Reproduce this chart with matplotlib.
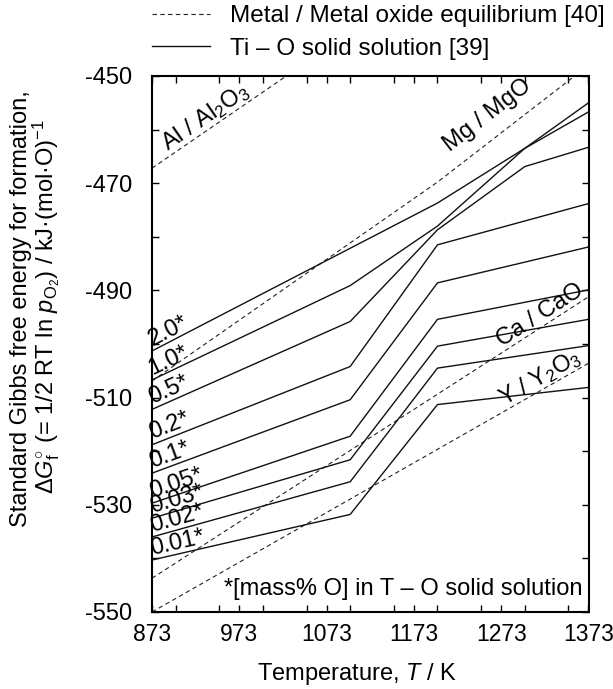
import numpy as np
import matplotlib
matplotlib.use("Agg")
import matplotlib.pyplot as plt
from matplotlib.ticker import MultipleLocator

plt.rcParams['font.family'] = ['Liberation Sans', 'DejaVu Sans']
plt.rcParams['mathtext.fontset'] = 'custom'
plt.rcParams['mathtext.rm'] = 'Liberation Sans'
plt.rcParams['mathtext.it'] = 'Liberation Sans:italic'
plt.rcParams['axes.unicode_minus'] = False

# Ti-O solid solution lines (oxygen content in mass%)
conc_labels = ["2.0*", "1.0*", "0.5*", "0.2*", "0.1*", "0.05*", "0.03*", "0.02*", "0.01*"]
T_ti = [
    [873, 1200, 1300, 1373],
    [873, 1100, 1200, 1300, 1373],
    [873, 1100, 1200, 1300, 1373],
    [873, 1100, 1200, 1373],
    [873, 1100, 1200, 1373],
    [873, 1100, 1200, 1373],
    [873, 1100, 1200, 1373],
    [873, 1100, 1200, 1373],
    [873, 1100, 1200, 1373],
]
G_ti = [
    [-501.3, -473.7, -463.5, -455.0],
    [-506.7, -489.1, -478.0, -463.5, -456.7],
    [-512.2, -495.8, -478.7, -466.9, -463.3],
    [-518.8, -504.2, -481.5, -473.8],
    [-524.1, -510.4, -488.6, -481.9],
    [-529.7, -517.2, -495.4, -489.9],
    [-532.5, -521.6, -500.4, -495.4],
    [-536.0, -525.7, -504.5, -500.3],
    [-540.3, -531.8, -511.3, -508.1],
]

# metal / metal oxide equilibrium lines
oxide_labels = [r"Al / Al$_2$O$_3$", "Mg / MgO", "Ca / CaO", r"Y / Y$_2$O$_3$"]
T_ox = [[873, 1373], [873, 1200, 1373], [873, 1373], [873, 1373]]
G_ox = [[-467.2, -411.3], [-506.9, -469.8, -448.0], [-543.7, -491.2], [-550.0, -503.6]]
oxide_label_pos = [(934, -457.6), (1257, -457.4), (1318, -494.6), (1318, -506.3)]

fig = plt.figure(figsize=(6.13, 6.89), dpi=100)
ax = fig.add_axes([152/613, 1-612/689, 436.5/613, 536/689])

fs = 17

h_dash = None
for T, G, lab, pos in zip(T_ox, G_ox, oxide_labels, oxide_label_pos):
    h_dash, = ax.plot(T, G, color="#222222", lw=0.8, ls=(0, (4, 3)))
    # slope of the segment nearest the label
    k = np.searchsorted(T, pos[0]) - 1
    k = min(max(k, 0), len(T) - 2)
    ang = np.degrees(np.arctan2(G[k+1] - G[k], T[k+1] - T[k]))
    ax.text(pos[0], pos[1], lab, fontsize=fs, rotation=ang, transform_rotates_text=True,
            rotation_mode="anchor", ha="center", va="center")

h_solid = None
for T, G, lab in zip(T_ti, G_ti, conc_labels):
    h_solid, = ax.plot(T, G, color="#111111", lw=1.0)
    ang = np.degrees(np.arctan2(G[1] - G[0], T[1] - T[0]))
    ax.text(873.5, G[0] + 1.0, lab, fontsize=fs, rotation=ang, transform_rotates_text=True,
            rotation_mode="anchor", ha="left", va="baseline")

ax.text(1366, -546.9, "*[mass% O] in T – O solid solution", fontsize=fs,
        ha="right", va="baseline")

ax.set_xlim(873, 1373)
ax.set_ylim(-550, -450)
ax.set_xticks(np.arange(873, 1374, 100))
ax.xaxis.set_minor_locator(MultipleLocator(50))
ax.set_yticks(np.arange(-550, -449, 20))
ax.yaxis.set_minor_locator(MultipleLocator(10))
ax.tick_params(which="both", direction="in", length=5, width=1, top=True, right=True)
ax.tick_params(axis="x", which="major", pad=8, labelsize=16.5)
ax.tick_params(axis="y", which="major", pad=14, labelsize=fs)
for s in ax.spines.values():
    s.set_linewidth(1.5)

ax.set_xlabel("Temperature, $T$ / K", fontsize=fs)
ax.xaxis.set_label_coords((357-152)/436.5, -(661-612)/536)

fig.text(21/613, 1-309/689, "Standard Gibbs free energy for formation,", fontsize=fs,
         rotation=90, ha="center", va="center")
fig.text(46/613, 1-307/689,
         r"Δ$G^{\circ}_{\mathrm{f}}$ (= 1/2 RT ln $p_{\mathrm{O_2}}$) / kJ·(mol·O)$^{-1}$",
         fontsize=fs, rotation=90, ha="center", va="center")

fig.legend([h_dash, h_solid],
           ["Metal / Metal oxide equilibrium [40]", "Ti – O solid solution [39]"],
           loc="upper left", bbox_to_anchor=(152/613, 1-5/689), frameon=False,
           fontsize=17.5, handlelength=2.4, handletextpad=0.8, labelspacing=0.45,
           borderpad=0, borderaxespad=0)

fig.savefig("out.png", dpi=100)
